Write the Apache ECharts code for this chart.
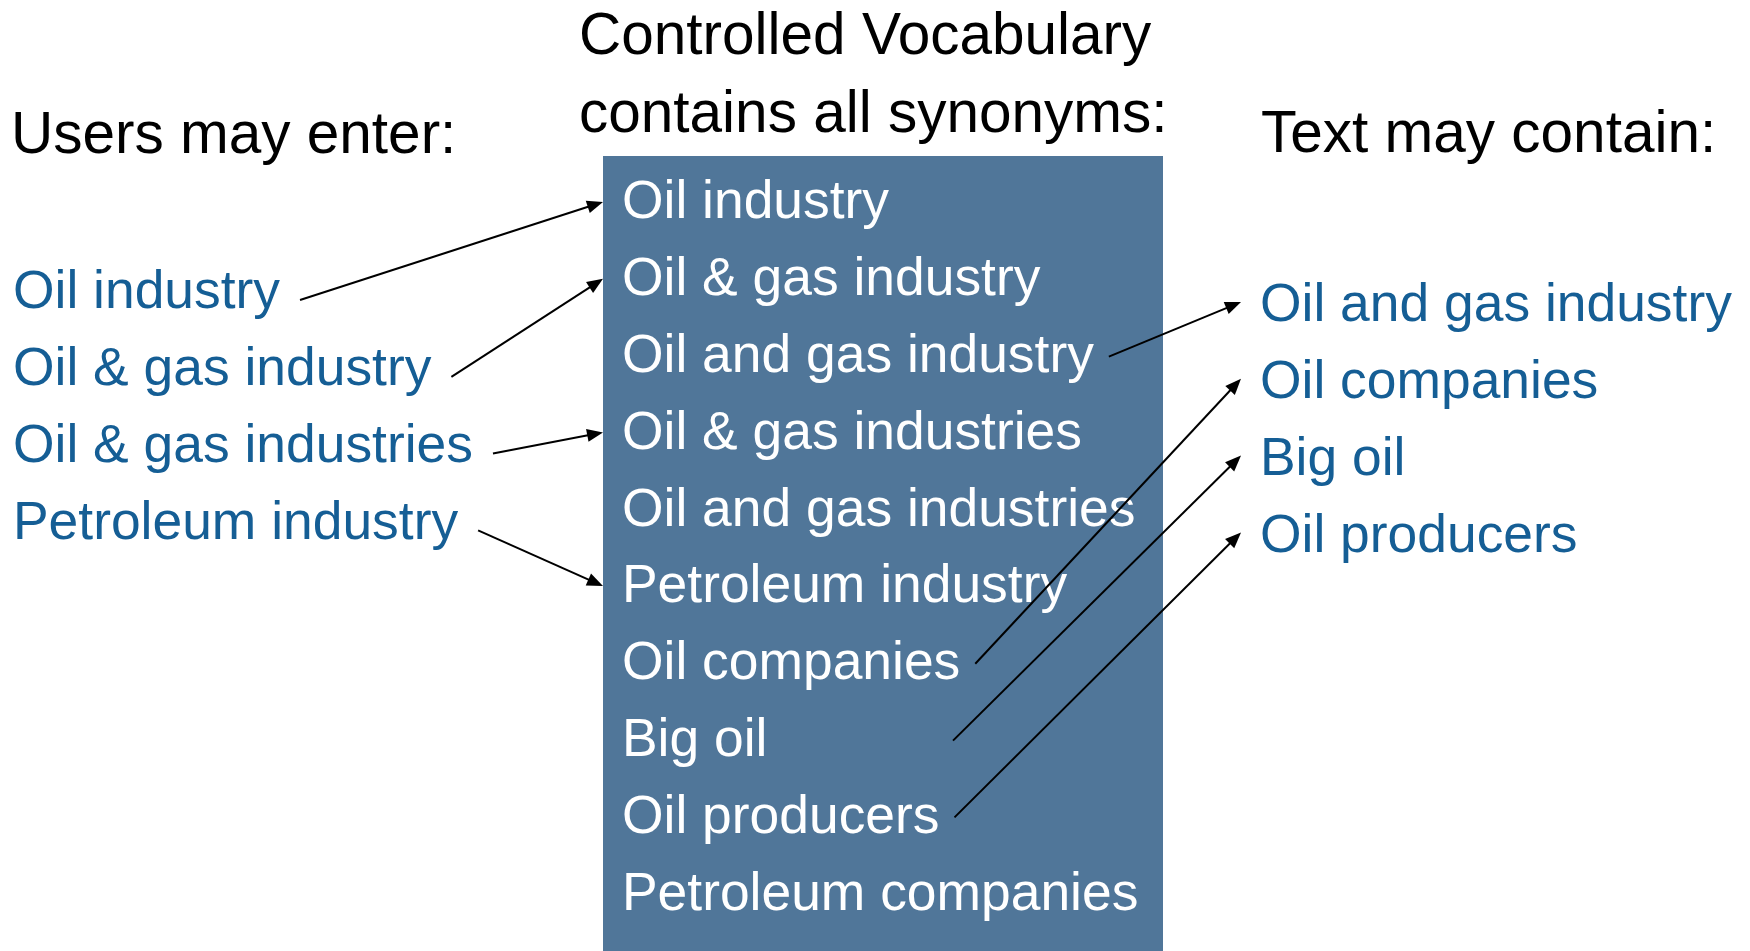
<!DOCTYPE html>
<html>
<head>
<meta charset="utf-8">
<script src="https://cdn.jsdelivr.net/npm/echarts@6/dist/echarts.min.js"></script>
<style>
html,body{margin:0;padding:0;background:#ffffff;}
#chart{width:1750px;height:951px;}
</style>
</head>
<body>
<div id="chart"></div>
<script>
// ---------- content ----------
const userHeader = 'Users may enter:';
const vocabHeader = ['Controlled Vocabulary', 'contains all synonyms:'];
const textHeader = 'Text may contain:';
const userTerms = ['Oil industry', 'Oil & gas industry', 'Oil & gas industries', 'Petroleum industry'];
const vocabTerms = ['Oil industry', 'Oil & gas industry', 'Oil and gas industry', 'Oil & gas industries',
  'Oil and gas industries', 'Petroleum industry', 'Oil companies', 'Big oil', 'Oil producers', 'Petroleum companies'];
const textTerms = ['Oil and gas industry', 'Oil companies', 'Big oil', 'Oil producers'];
// links: [user term index, vocabulary index] and [vocabulary index, text term index]
const userLinks = [[0, 0], [1, 1], [2, 3], [3, 5]];
const textLinks = [[2, 0], [6, 1], [7, 2], [8, 3]];

// ---------- layout & style ----------
const W = 1750, H = 951;
const FAMILY = '"Liberation Sans", Arial, Helvetica, sans-serif';
const ITEM_FONT = 53.4, HEAD_FONT = 58.5;
const BLUE = '#155e95', BOX = '#507699';
const MID = 0.27; // baseline -> visual middle, in em
const LAY = {
  step: 76.8,
  userX: 13, userY0: 308, userHeadY: 153,
  vocabX: 622, vocabY0: 218, vocabHeadX: 579, vocabHeadY: [54, 131.5],
  textX: 1260, textY0: 321, textHeadX: 1261, textHeadY: 152,
  boxX0: 603, boxX1: 1163, boxY0: 156
};

const mctx = document.createElement('canvas').getContext('2d');
function textWidth(t, size) { mctx.font = size + 'px ' + FAMILY; return mctx.measureText(t).width; }
const midY = (base, size) => base - MID * size;
const userBase = i => LAY.userY0 + LAY.step * i;
const vocabBase = i => LAY.vocabY0 + LAY.step * i;
const textBase = i => LAY.textY0 + LAY.step * i;

// text rows: [x, centerY]
const headerLabels = [userHeader, vocabHeader[0], vocabHeader[1], textHeader];
const headerData = [
  [LAY.userX - 2, midY(LAY.userHeadY, HEAD_FONT)],
  [LAY.vocabHeadX, midY(LAY.vocabHeadY[0], HEAD_FONT)],
  [LAY.vocabHeadX, midY(LAY.vocabHeadY[1], HEAD_FONT)],
  [LAY.textHeadX, midY(LAY.textHeadY, HEAD_FONT)]
];
const userData = userTerms.map((t, i) => [LAY.userX, midY(userBase(i), ITEM_FONT)]);
const vocabData = vocabTerms.map((t, i) => [LAY.vocabX, midY(vocabBase(i), ITEM_FONT)]);
const textData = textTerms.map((t, i) => [LAY.textX, midY(textBase(i), ITEM_FONT)]);

// arrows: [x1, y1, x2, y2]
const arrowData = [];
userLinks.forEach(([u, v]) => {
  arrowData.push([LAY.userX + textWidth(userTerms[u], ITEM_FONT) + 20, userBase(u) - 8,
    LAY.boxX0, vocabBase(v) - 16]);
});
textLinks.forEach(([v, t]) => {
  arrowData.push([Math.max(LAY.vocabX + textWidth(vocabTerms[v], ITEM_FONT) + 15, 953), vocabBase(v) - 15,
    LAY.textX - 19, textBase(t) - 19]);
});

function textSeries(name, labels, data, color, size) {
  return {
    type: 'custom', name: name, silent: true, data: data, z: 5,
    renderItem: function (params, api) {
      const p = api.coord([api.value(0), api.value(1)]);
      return {
        type: 'text', x: p[0], y: p[1],
        style: { text: labels[params.dataIndex], fill: color, font: size + 'px ' + FAMILY,
          align: 'left', verticalAlign: 'middle' }
      };
    }
  };
}

const chart = echarts.init(document.getElementById('chart'), null, { renderer: 'canvas' });
chart.setOption({
  animation: false,
  backgroundColor: '#ffffff',
  grid: { left: 0, right: 0, top: 0, bottom: 0 },
  xAxis: { type: 'value', min: 0, max: W, show: false },
  yAxis: { type: 'value', min: 0, max: H, inverse: true, show: false },
  series: [
    {
      type: 'custom', name: 'box', silent: true, z: 1,
      data: [[LAY.boxX0, LAY.boxY0, LAY.boxX1, H]],
      renderItem: function (params, api) {
        const a = api.coord([api.value(0), api.value(1)]);
        const b = api.coord([api.value(2), api.value(3)]);
        return { type: 'rect', shape: { x: a[0], y: a[1], width: b[0] - a[0], height: b[1] - a[1] },
          style: { fill: BOX } };
      }
    },
    textSeries('headers', headerLabels, headerData, '#000000', HEAD_FONT),
    textSeries('users', userTerms, userData, BLUE, ITEM_FONT),
    textSeries('vocabulary', vocabTerms, vocabData, '#ffffff', ITEM_FONT),
    textSeries('text', textTerms, textData, BLUE, ITEM_FONT),
    {
      type: 'custom', name: 'links', silent: true, z: 10, data: arrowData,
      renderItem: function (params, api) {
        const p1 = api.coord([api.value(0), api.value(1)]);
        const p2 = api.coord([api.value(2), api.value(3)]);
        const dx = p2[0] - p1[0], dy = p2[1] - p1[1];
        const len = Math.hypot(dx, dy), ux = dx / len, uy = dy / len;
        const hl = 16, hw = 6.5;
        const bx = p2[0] - ux * hl, by = p2[1] - uy * hl;
        return {
          type: 'group', children: [
            { type: 'line', shape: { x1: p1[0], y1: p1[1], x2: bx + ux * 2, y2: by + uy * 2 },
              style: { stroke: '#000000', lineWidth: 2 } },
            { type: 'polygon', shape: { points: [[p2[0], p2[1]], [bx - uy * hw, by + ux * hw], [bx + uy * hw, by - ux * hw]] },
              style: { fill: '#000000' } }
          ]
        };
      }
    }
  ]
});
</script>
</body>
</html>
